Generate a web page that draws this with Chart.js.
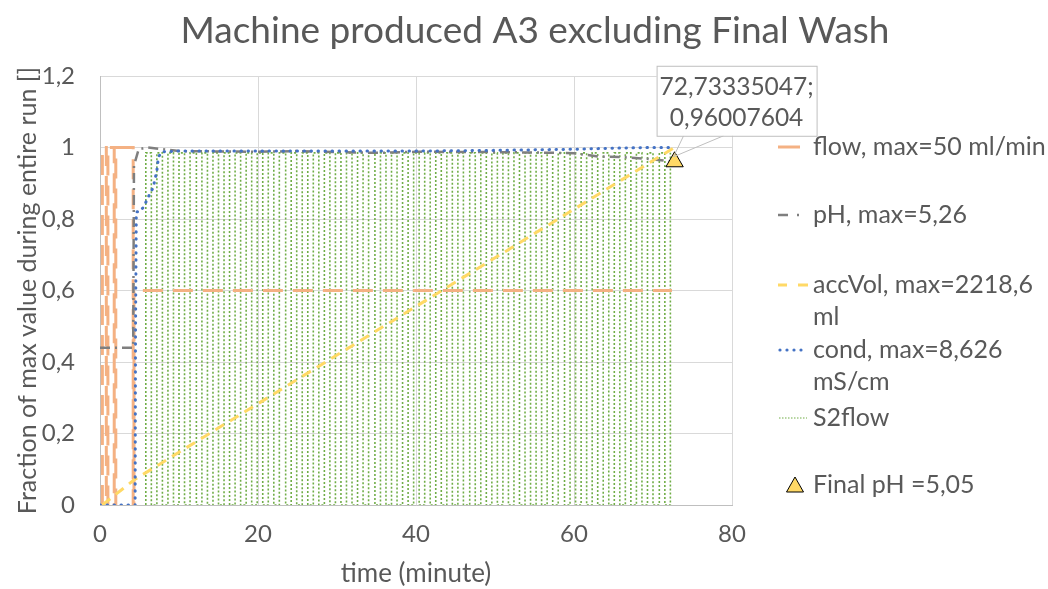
<!DOCTYPE html>
<html><head><meta charset="utf-8">
<script src="https://cdn.jsdelivr.net/npm/chart.js@4.4.1/dist/chart.umd.min.js"></script>
<style>html,body{margin:0;padding:0;background:#fff;}#wrap{width:1048px;height:589px;}</style>
</head><body><div id="wrap"><canvas id="c" width="1048" height="589"></canvas></div>
<script>
const FONT = 'Lato';
const titleText = 'Machine produced A3 excluding Final Wash';
const xTitle = 'time (minute)';
const yTitle = 'Fraction of max value during entire run []';
const xTickLabels = ['0', '20', '40', '60', '80'];
const yTickLabels = ['0', '0,2', '0,4', '0,6', '0,8', '1', '1,2'];

// flow (fraction of 50 ml/min)
const flowT = [0.3, 0.3, 0.8, 0.8, 1.0, 1.0, 1.8, 1.8, 2.0, 2.0, 4.2, 4.2, 4.3, 4.3, 72.4];
const flowV = [0, 1, 1, 0, 0, 1, 1, 0, 0, 1, 1, 0, 0, 0.6, 0.6];
// pH (fraction of 5,26)
const phT = [0, 4.2, 4.3, 4.9, 6, 10, 20, 25, 30, 35, 40, 50, 55, 60, 63, 66, 69, 72.73];
const phV = [0.44, 0.44, 0.95, 0.995, 1.0, 0.99, 0.988, 0.99, 0.987, 0.985, 0.988, 0.987, 0.986, 0.984, 0.975, 0.973, 0.969, 0.96];
// accVol (fraction of 2218,6 ml)
const accT = [0.3, 4.3, 72.7];
const accV = [0, 0.07, 1.0];
// cond (fraction of 8,626 mS/cm)
const condT = [0, 4.45, 4.5, 4.6, 5.0, 5.5, 6.1, 6.75, 7.2, 7.4, 7.8, 10, 20, 30, 40, 50, 60, 65, 70, 72.2];
const condV = [0, 0, 0.5, 0.82, 0.82, 0.833, 0.861, 0.889, 0.936, 0.973, 0.988, 0.99, 0.99, 0.99, 0.99, 0.992, 0.995, 0.998, 1.0, 1.0];
// S2flow switching times and on-level
const s2Times = [5.8, 6.5, 7.2, 7.9, 8.6, 9.3, 10.0, 10.7, 11.4, 12.2, 12.9, 13.6, 14.3, 15.0, 15.7, 16.4, 17.1, 17.8, 18.5, 19.2, 19.9, 20.6, 21.3, 22.0, 22.7, 23.5, 24.2, 24.9, 25.6, 26.3, 27.0, 27.7, 28.4, 29.1, 29.8, 30.5, 31.2, 31.9, 32.6, 33.3, 34.0, 34.8, 35.5, 36.2, 36.9, 37.6, 38.3, 39.0, 39.7, 40.4, 41.1, 41.8, 42.5, 43.2, 43.9, 44.6, 45.3, 46.0, 46.8, 47.5, 48.2, 48.9, 49.6, 50.3, 51.0, 51.7, 52.4, 53.1, 53.8, 54.5, 55.2, 55.9, 56.6, 57.3, 58.0, 58.8, 59.5, 60.2, 60.9, 61.6, 62.3, 63.0, 63.7, 64.4, 65.1, 65.8, 66.5, 67.2, 67.9, 68.6, 69.3, 70.0, 70.8, 71.5, 72.2];
const s2Level = 0.985;
// final pH marker
const finalX = [72.73335047];
const finalY = [0.96007604];
const calloutLines = ['72,73335047;', '0,96007604'];
const legendLabels = [['flow, max=50 ml/min'], ['pH, max=5,26'], ['accVol, max=2218,6', 'ml'], ['cond, max=8,626', 'mS/cm'], ['S2flow'], ['Final pH =5,05']];

const C = { flow: '#F4B183', ph: '#7F7F7F', acc: '#FFD966', cond: '#4472C4', s2: '#70AD47', text: '#595959', grid: '#D9D9D9' };

const pts = (t, v) => t.map((x, i) => ({ x, y: v[i] }));
const s2Points = [];
s2Times.forEach((t, i) => {
  const a = i % 2 === 0 ? 0 : s2Level, b = i % 2 === 0 ? s2Level : 0;
  s2Points.push({ x: t, y: a }, { x: t, y: b });
});

const overlay = {
  id: 'overlay',
  afterDraw(chart) {
    const ctx = chart.ctx, xs = chart.scales.x, ys = chart.scales.y;
    ctx.save();
    ctx.fillStyle = C.text; ctx.textBaseline = 'middle';
    ctx.font = `37px ${FONT}`; ctx.textAlign = 'center';
    ctx.fillText(titleText, 535, 31);
    // callout
    const px = xs.getPixelForValue(finalX[0]), py = ys.getPixelForValue(finalY[0]);
    const bx = px - 18, by = py - 96, bw = 160, bh = 70;
    ctx.strokeStyle = '#BFBFBF'; ctx.lineWidth = 1;
    ctx.beginPath(); ctx.moveTo(bx + 27, by + bh); ctx.lineTo(px - 1, py - 5); ctx.lineTo(bx + 67, by + bh); ctx.stroke();
    ctx.fillStyle = '#fff'; ctx.fillRect(bx, by, bw, bh);
    ctx.strokeRect(bx + 0.5, by + 0.5, bw, bh);
    ctx.fillStyle = C.text; ctx.font = `24.5px ${FONT}`; ctx.textAlign = 'center';
    ctx.fillText(calloutLines[0], bx + bw / 2, by + 21);
    ctx.fillText(calloutLines[1], bx + bw / 2, by + 52);
    // legend
    const lx = 778, tx = 813;
    const rows = [147, 215, 285, 350, 418, 485];
    ctx.font = `25px ${FONT}`; ctx.textAlign = 'left'; ctx.fillStyle = C.text;
    legendLabels.forEach((lines, i) => lines.forEach((s, j) => ctx.fillText(s, tx, rows[i] + j * 32)));
    ctx.lineWidth = 3; ctx.lineCap = 'butt';
    ctx.strokeStyle = C.flow; ctx.beginPath(); ctx.moveTo(lx, rows[0]); ctx.lineTo(lx + 22, rows[0]); ctx.stroke();
    ctx.strokeStyle = C.ph; ctx.lineWidth = 2.5; ctx.beginPath(); ctx.moveTo(lx, rows[1]); ctx.lineTo(lx + 10, rows[1]); ctx.moveTo(lx + 19, rows[1]); ctx.lineTo(lx + 21, rows[1]); ctx.stroke();
    ctx.strokeStyle = C.acc; ctx.lineWidth = 3; ctx.beginPath(); ctx.moveTo(lx, rows[2]); ctx.lineTo(lx + 9, rows[2]); ctx.moveTo(lx + 20, rows[2]); ctx.lineTo(lx + 30, rows[2]); ctx.stroke();
    ctx.fillStyle = C.cond;
    for (let k = 0; k < 4; k++) { ctx.beginPath(); ctx.arc(lx + 2 + k * 7, rows[3], 1.6, 0, Math.PI * 2); ctx.fill(); }
    ctx.strokeStyle = C.s2; ctx.lineWidth = 1.2; ctx.setLineDash([1.5, 1.5]); ctx.beginPath(); ctx.moveTo(lx + 1, rows[4]); ctx.lineTo(lx + 29, rows[4]); ctx.stroke(); ctx.setLineDash([]);
    ctx.fillStyle = C.acc; ctx.strokeStyle = '#000'; ctx.lineWidth = 1;
    ctx.beginPath(); ctx.moveTo(795, rows[5] - 8); ctx.lineTo(803.5, rows[5] + 7); ctx.lineTo(786.5, rows[5] + 7); ctx.closePath(); ctx.fill(); ctx.stroke();
    ctx.restore();
  }
};

new Chart(document.getElementById('c'), {
  type: 'line',
  data: {
    datasets: [
      { label: 'Final pH =5,05', data: pts(finalX, finalY), showLine: false, pointStyle: 'triangle', pointRadius: 10, pointBackgroundColor: C.acc, pointBorderColor: '#000', pointBorderWidth: 1 },
      { label: 'cond, max=8,626 mS/cm', data: pts(condT, condV), borderColor: C.cond, borderWidth: 3, borderDash: [0.5, 6.5], borderCapStyle: 'round', pointRadius: 0 },
      { label: 'accVol, max=2218,6 ml', data: pts(accT, accV), borderColor: C.acc, borderWidth: 3, borderDash: [10, 7], pointRadius: 0 },
      { label: 'pH, max=5,26', data: pts(phT, phV), borderColor: C.ph, borderWidth: 2.5, borderDash: [10, 5, 2, 5], pointRadius: 0 },
      { label: 'flow, max=50 ml/min', data: pts(flowT, flowV), borderColor: C.flow, borderWidth: 3, borderDash: [20, 10], pointRadius: 0 },
      { label: 'S2flow', data: s2Points, borderColor: C.s2, borderWidth: 1.6, borderDash: [2, 2], pointRadius: 0 }
    ]
  },
  options: {
    responsive: false, animation: false, devicePixelRatio: 1,
    layout: { padding: { left: 0, top: 76, right: 316, bottom: 0 } },
    plugins: { legend: { display: false }, tooltip: { enabled: false }, title: { display: false } },
    elements: { line: { tension: 0, fill: false } },
    scales: {
      x: {
        type: 'linear', min: 0, max: 80,
        ticks: { stepSize: 20, padding: 15, color: C.text, font: { family: FONT, size: 24 }, callback: (v, i) => xTickLabels[i] },
        grid: { color: C.grid, drawTicks: false },
        border: { color: '#BFBFBF' },
        title: { display: true, text: xTitle, color: C.text, font: { family: FONT, size: 26 }, padding: { top: 0, bottom: 0 } },
        afterFit: s => { s.height = 84; }
      },
      y: {
        min: 0, max: 1.2,
        ticks: { stepSize: 0.2, padding: 25, color: C.text, font: { family: FONT, size: 24 }, callback: (v, i) => yTickLabels[i] },
        grid: { color: C.grid, drawTicks: false },
        border: { color: '#BFBFBF' },
        title: { display: true, text: yTitle, color: C.text, font: { family: FONT, size: 25 }, padding: { top: 13, bottom: 0 } },
        afterFit: s => { s.width = 100; }
      }
    }
  },
  plugins: [overlay]
});
</script></body></html>
